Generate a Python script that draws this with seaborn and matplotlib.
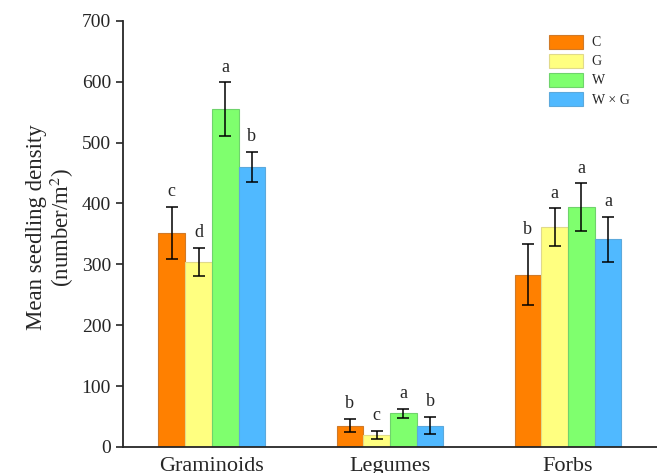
import numpy as np
import pandas as pd
import seaborn as sns
import matplotlib
matplotlib.use("Agg")
import matplotlib.pyplot as plt
from matplotlib.patches import Patch

sns.set_style("ticks")
plt.rcParams['font.family'] = ['Liberation Serif', 'DejaVu Serif']
plt.rcParams['mathtext.fontset'] = 'stix'

groups = ["Graminoids", "Legumes", "Forbs"]
treatments = ["C", "G", "W", "W × G"]
means = {
    "C":     [352, 35, 283],
    "G":     [304, 20, 361],
    "W":     [555, 55, 394],
    "W × G": [460, 35, 341],
}
errs = {
    "C":     [43, 11, 50],
    "G":     [23, 7, 31],
    "W":     [44, 8, 39],
    "W × G": [25, 14, 37],
}
letters = {
    "C":     ["c", "b", "b"],
    "G":     ["d", "c", "a"],
    "W":     ["a", "a", "a"],
    "W × G": ["b", "b", "a"],
}
colors = ["#FF8000", "#FFFF80", "#7FFF6E", "#50B9FF"]
edges = ["#D07A28", "#E0DA8A", "#6FD36C", "#5CA9DC"]

rows = []
for t in treatments:
    for i, g in enumerate(groups):
        rows.append({"group": g, "treatment": t, "mean": means[t][i]})
df = pd.DataFrame(rows)

fig = plt.figure(figsize=(6.57, 4.73), dpi=100)
ax = fig.add_axes([0.187, 0.055, 0.813, 0.901])

sns.barplot(data=df, x="group", y="mean", hue="treatment", order=groups,
            hue_order=treatments, palette=colors, saturation=1, width=0.6,
            gap=0, errorbar=None, ax=ax, linewidth=0.8, legend=False)

for k, (cont, t) in enumerate(zip(ax.containers, treatments)):
    for i, bar in enumerate(cont):
        bar.set_edgecolor(edges[k])
        xc = bar.get_x() + bar.get_width() / 2
        ax.errorbar(xc, means[t][i], yerr=errs[t][i], fmt="none",
                    ecolor="black", elinewidth=1.1, capsize=4, capthick=1.1)
        ax.text(xc, means[t][i] + errs[t][i] + 11, letters[t][i],
                ha="center", va="bottom", fontsize=13)

ax.set_xlim(-0.5, 2.5)
ax.set_ylim(0, 700)
ax.set_yticks(range(0, 701, 100))
ax.set_xlabel("")
ax.set_ylabel("Mean seedling density\n(number/m$^{2}$)", fontsize=16.5,
              linespacing=1.05)
ax.yaxis.set_label_coords(-0.087, 0.515)
ax.tick_params(axis="y", labelsize=14, direction="out", length=5, width=1.2)
ax.tick_params(axis="x", labelsize=16, length=0, pad=7)
sns.despine(ax=ax)
ax.spines["left"].set_linewidth(1.3)
ax.spines["bottom"].set_linewidth(1.3)

handles = [Patch(facecolor=c, edgecolor=e, linewidth=0.8) for c, e in zip(colors, edges)]
ax.legend(handles, treatments, loc="upper left", bbox_to_anchor=(0.78, 0.99),
          frameon=False, fontsize=10, handlelength=2.45, handleheight=1.15,
          labelspacing=0.32, handletextpad=0.6, borderpad=0.2)

fig.savefig("out.png", dpi=100)
